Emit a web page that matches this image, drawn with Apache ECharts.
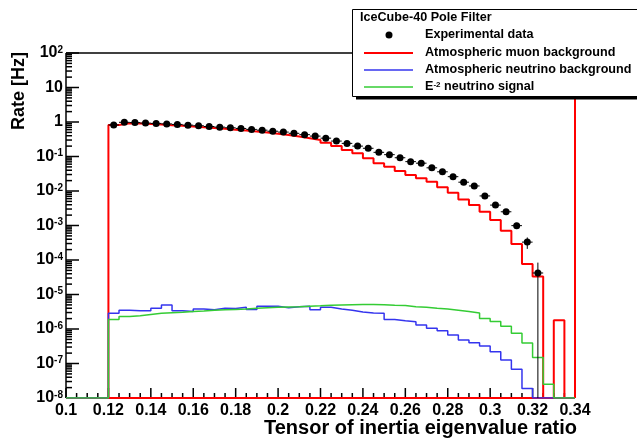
<!DOCTYPE html>
<html>
<head>
<meta charset="utf-8">
<title>IceCube-40 Pole Filter</title>
<script src="https://cdn.jsdelivr.net/npm/echarts@6/dist/echarts.min.js"></script>
<style>
  html, body { margin: 0; padding: 0; background: #ffffff; }
  #chart { width: 637px; height: 439px; }
</style>
</head>
<body>
<div id="chart"></div>
<script>
// Histogram binning (0.005 wide bins starting at 0.12)
const binLow = 0.12;
const binWidth = 0.005;

// Experimental data, bins 0.120 ... 0.325
const dataRate = [0.82, 0.98, 0.96, 0.93, 0.91, 0.88, 0.85, 0.81, 0.78, 0.74,
  0.71, 0.68, 0.65, 0.61, 0.58, 0.54, 0.51, 0.47, 0.43, 0.39,
  0.34, 0.28, 0.24, 0.20, 0.173, 0.132, 0.113, 0.092, 0.071, 0.064,
  0.047, 0.036, 0.026, 0.018, 0.014, 0.0072, 0.0039, 0.0025, 0.00099, 0.00033,
  0.000042];
const dataErr = [0.0059, 0.0064, 0.0063, 0.0062, 0.0062, 0.0061, 0.006, 0.0058, 0.0057, 0.0056,
  0.0055, 0.0053, 0.0052, 0.0051, 0.0049, 0.0048, 0.0046, 0.0044, 0.0042, 0.004,
  0.0038, 0.0034, 0.0032, 0.0029, 0.0027, 0.0024, 0.0022, 0.002, 0.0017, 0.0016,
  0.0014, 0.0012, 0.001, 0.00087, 0.00077, 0.00055, 0.0004, 0.00032, 0.0002, 0.00012,
  0.000042];

// Simulated rates, bins 0.120 ... 0.335
const muonRate = [0.82, 0.92, 0.90, 0.87, 0.84, 0.81, 0.78, 0.74, 0.71, 0.67,
  0.64, 0.60, 0.57, 0.53, 0.50, 0.46, 0.42, 0.38, 0.34, 0.30,
  0.25, 0.201, 0.154, 0.124, 0.0886, 0.0635, 0.0507, 0.038, 0.029, 0.0233,
  0.0186, 0.0128, 0.0089, 0.0057, 0.0039, 0.0025, 0.00144, 0.00071, 0.00029, 0.000077,
  0.000033, 0, 1.8e-6, 0];
const nuRate = [2.85e-6, 3.5e-6, 3.4e-6, 3.4e-6, 4.0e-6, 5.0e-6, 3.4e-6, 3.2e-6, 3.8e-6, 3.6e-6,
  4.0e-6, 3.9e-6, 4.25e-6, 3.7e-6, 4.6e-6, 4.6e-6, 4.1e-6, 4.4e-6, 4.6e-6, 3.6e-6,
  4.25e-6, 3.8e-6, 3.5e-6, 3.1e-6, 2.9e-6, 2.85e-6, 1.9e-6, 1.74e-6, 1.63e-6, 1.31e-6,
  1.05e-6, 8.9e-7, 6.7e-7, 4.8e-7, 4.0e-7, 3.2e-7, 2.2e-7, 1.26e-7, 6.8e-8, 1.9e-8,
  0, 0, 0, 0];
const signalRate = [1.9e-6, 2.3e-6, 2.42e-6, 2.65e-6, 2.85e-6, 2.98e-6, 3.05e-6, 3.2e-6, 3.3e-6, 3.5e-6,
  3.6e-6, 3.7e-6, 3.8e-6, 4.0e-6, 4.15e-6, 4.25e-6, 4.35e-6, 4.4e-6, 4.6e-6, 4.7e-6,
  4.85e-6, 4.95e-6, 5.05e-6, 5.1e-6, 5.1e-6, 5.05e-6, 4.9e-6, 4.8e-6, 4.4e-6, 4.3e-6,
  4.0e-6, 3.8e-6, 3.5e-6, 3.2e-6, 2.9e-6, 2.0e-6, 1.65e-6, 1.2e-6, 7.5e-7, 3.9e-7,
  1.5e-7, 2.5e-8, 0, 0];

// Axis tick labels
const xTickLabels = ['0.1', '0.12', '0.14', '0.16', '0.18', '0.2', '0.22', '0.24', '0.26', '0.28', '0.3', '0.32', '0.34'];
const yTickExponents = [-8, -7, -6, -5, -4, -3, -2, -1, 0, 1, 2];

const xMin = 0.1, xMax = 0.34, xStep = 0.02, xMinorSteps = 4;
const yMin = 1e-8, yMax = 1e2;

const FONT = '"Liberation Sans", Arial, Helvetica, sans-serif';
const RED = '#ff0000', BLUE = '#3434ee', GREEN = '#34cc34';

// Outline of a histogram: empty bins sit on the floor of the log axis
function histOutline(values, closeBase) {
  const pts = [[xMin, yMin], [binLow, yMin]];
  values.forEach((v, i) => {
    const lo = binLow + i * binWidth;
    const hi = lo + binWidth;
    const y = v > 0 ? v : yMin;
    pts.push([lo, y], [hi, y]);
  });
  const end = binLow + values.length * binWidth;
  pts.push([end, yMin]);
  if (closeBase) pts.push([binLow, yMin]);
  return pts;
}

const dataPoints = dataRate.map((v, i) => [binLow + (i + 0.5) * binWidth, v, dataErr[i]]);

// Tick positions on both axes
const majorY = yTickExponents.map(e => Math.pow(10, e));
const minorY = [];
yTickExponents.slice(0, -1).forEach(e => {
  for (let k = 2; k <= 9; k++) minorY.push(k * Math.pow(10, e));
});
const majorX = xTickLabels.map((t, i) => xMin + i * xStep);
const minorX = [];
majorX.slice(0, -1).forEach(v => {
  for (let k = 1; k < xMinorSteps; k++) minorX.push(v + k * xStep / xMinorSteps);
});

function yLabel(v) {
  const e = Math.round(Math.log10(v));
  if (e === 0) return '{b|1}';
  if (e === 1) return '{b|10}';
  return '{b|10}{s|' + e + '}';
}

function xLabel(v) {
  const idx = Math.round((v - xMin) / xStep);
  return xTickLabels[idx] !== undefined ? xTickLabels[idx] : '';
}

const lineSeries = (name, values, color, width, z, closeBase) => ({
  name: name,
  type: 'line',
  data: histOutline(values, closeBase),
  showSymbol: false,
  symbol: 'none',
  lineStyle: { color: color, width: width },
  z: z,
  silent: true,
  animation: false
});

const chart = echarts.init(document.getElementById('chart'), null, { renderer: 'canvas' });

const muonSeries = lineSeries('Atmospheric muon background', muonRate, RED, 2, 3, true);
muonSeries.markLine = {
  silent: true,
  symbol: 'none',
  label: { show: false },
  lineStyle: { color: RED, width: 2, type: 'solid' },
  data: [{ xAxis: xMax }],
  animation: false
};

const option = {
  animation: false,
  backgroundColor: '#ffffff',
  grid: {
    left: 66, right: 62, top: 53, bottom: 41,
    containLabel: false,
    outerBoundsMode: 'none',
    show: false
  },
  xAxis: {
    type: 'value',
    min: xMin, max: xMax, interval: xStep,
    axisLine: { show: false, onZero: false },
    axisTick: { show: false },
    minorTick: { show: false },
    splitLine: { show: false },
    minorSplitLine: { show: false },
    axisLabel: {
      show: true, margin: 5, color: '#000000',
      fontFamily: FONT, fontWeight: 'bold', fontSize: 16,
      formatter: xLabel,
      hideOverlap: false,
      showMinLabel: true, showMaxLabel: true
    }
  },
  yAxis: {
    type: 'log', logBase: 10, min: yMin, max: yMax,
    axisLine: { show: false, onZero: false },
    axisTick: { show: false },
    minorTick: { show: false },
    splitLine: { show: false },
    axisLabel: {
      show: true, margin: 3, color: '#000000',
      customValues: majorY,
      formatter: yLabel,
      rich: {
        b: { fontFamily: FONT, fontWeight: 'bold', fontSize: 16, color: '#000000', lineHeight: 16 },
        s: { fontFamily: FONT, fontWeight: 'bold', fontSize: 10, color: '#000000', lineHeight: 10, verticalAlign: 'top' }
      }
    }
  },
  series: [
    muonSeries,
    lineSeries('Atmospheric neutrino background', nuRate, BLUE, 1.5, 4, false),
    lineSeries('E-2 neutrino signal', signalRate, GREEN, 1.5, 5, false),
    {
      name: 'Experimental data errors',
      type: 'custom',
      data: dataPoints,
      encode: { x: 0, y: 1 },
      z: 6,
      silent: true,
      animation: false,
      renderItem: function (params, api) {
        const x = api.value(0), y = api.value(1), e = api.value(2);
        const left = api.coord([x - binWidth / 2, y]);
        const right = api.coord([x + binWidth / 2, y]);
        const top = api.coord([x, y + e]);
        const bot = api.coord([x, Math.max(y - e, yMin)]);
        const style = { stroke: '#000000', lineWidth: 1 };
        return {
          type: 'group',
          children: [
            { type: 'line', shape: { x1: left[0], y1: left[1], x2: right[0], y2: right[1] }, style: style },
            { type: 'line', shape: { x1: top[0], y1: top[1], x2: bot[0], y2: bot[1] }, style: style }
          ]
        };
      }
    },
    {
      name: 'Experimental data',
      type: 'scatter',
      data: dataPoints.map(p => [p[0], p[1]]),
      symbol: 'circle',
      symbolSize: 7,
      itemStyle: { color: '#000000', opacity: 1 },
      z: 7,
      silent: true,
      animation: false
    }
  ],
  graphic: [
    // axis titles
    {
      type: 'text', x: 577, y: 428, z: 10,
      style: { text: 'Tensor of inertia eigenvalue ratio', fill: '#000000', font: 'bold 20px ' + FONT, align: 'right', verticalAlign: 'middle' }
    },
    {
      type: 'text', x: 19.5, y: 52, rotation: Math.PI / 2, z: 10,
      style: { text: 'Rate [Hz]', fill: '#000000', font: 'bold 18px ' + FONT, align: 'right', verticalAlign: 'middle' }
    },
    // legend box with drop shadow
    { type: 'rect', z: 20, shape: { x: 356, y: 96, width: 290, height: 3.5 }, style: { fill: '#000000' } },
    { type: 'rect', z: 21, shape: { x: 352.5, y: 9.5, width: 300, height: 87 }, style: { fill: '#ffffff', stroke: '#000000', lineWidth: 1 } },
    {
      type: 'text', z: 22, x: 360, y: 18,
      style: { text: 'IceCube-40 Pole Filter', fill: '#000000', font: 'bold 12.6px ' + FONT, verticalAlign: 'middle' }
    },
    { type: 'circle', z: 22, shape: { cx: 389, cy: 35, r: 3.5 }, style: { fill: '#000000' } },
    {
      type: 'text', z: 22, x: 425, y: 35,
      style: { text: 'Experimental data', fill: '#000000', font: 'bold 12.6px ' + FONT, verticalAlign: 'middle' }
    },
    { type: 'line', z: 22, shape: { x1: 364, y1: 53, x2: 413, y2: 53 }, style: { stroke: RED, lineWidth: 2 } },
    {
      type: 'text', z: 22, x: 425, y: 53,
      style: { text: 'Atmospheric muon background', fill: '#000000', font: 'bold 12.6px ' + FONT, verticalAlign: 'middle' }
    },
    { type: 'line', z: 22, shape: { x1: 364, y1: 70, x2: 413, y2: 70 }, style: { stroke: BLUE, lineWidth: 1.5 } },
    {
      type: 'text', z: 22, x: 425, y: 70,
      style: { text: 'Atmospheric neutrino background', fill: '#000000', font: 'bold 12.6px ' + FONT, verticalAlign: 'middle' }
    },
    { type: 'line', z: 22, shape: { x1: 364, y1: 87, x2: 413, y2: 87 }, style: { stroke: GREEN, lineWidth: 1.5 } },
    {
      type: 'text', z: 22, x: 425, y: 87,
      style: {
        text: '{b|E}{s|-2}{b| neutrino signal}',
        verticalAlign: 'middle',
        rich: {
          b: { fill: '#000000', font: 'bold 12.6px ' + FONT, lineHeight: 13 },
          s: { fill: '#000000', font: 'bold 8px ' + FONT, lineHeight: 8, verticalAlign: 'top' }
        }
      }
    }
  ]
};

chart.setOption(option);

// Frame with inside ticks (ROOT style), positioned through the axis scales
function frameElements() {
  const px = (x, y) => chart.convertToPixel({ gridIndex: 0 }, [x, y]);
  const bl = px(xMin, yMin);
  const tr = px(xMax, yMax);
  const x0 = bl[0], y0 = bl[1], x1 = tr[0], y1 = tr[1];
  const els = [];
  const seg = (ax, ay, bx, by) => els.push({
    type: 'line', z: 2, silent: true,
    shape: { x1: ax, y1: ay, x2: bx, y2: by },
    style: { stroke: '#000000', lineWidth: 1.5 }
  });
  seg(x0, y1, x1, y1);
  seg(x1, y1, x1, y0);
  seg(x0, y0, x1, y0);
  seg(x0, y0, x0, y1);
  majorY.forEach(v => { const y = px(xMin, v)[1]; seg(x0, y, x0 + 13, y); });
  minorY.forEach(v => { const y = px(xMin, v)[1]; seg(x0, y, x0 + 6, y); });
  majorX.forEach(v => { const x = px(v, yMin)[0]; seg(x, y0, x, y0 - 10); });
  minorX.forEach(v => { const x = px(v, yMin)[0]; seg(x, y0, x, y0 - 5); });
  return els;
}

chart.setOption({ graphic: option.graphic.concat(frameElements()) });
</script>
</body>
</html>
